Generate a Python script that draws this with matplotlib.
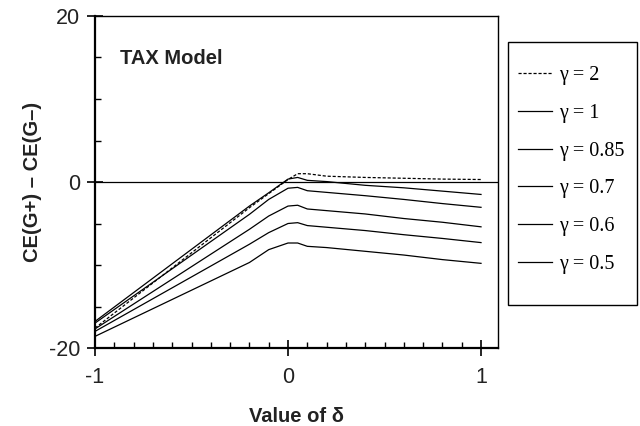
import matplotlib
matplotlib.use("Agg")
import matplotlib.pyplot as plt
from matplotlib.patches import Rectangle
from matplotlib.ticker import MultipleLocator

delta = [-1.0, -0.2, -0.1, 0.0, 0.05, 0.1, 0.2, 0.4, 0.6, 0.8, 1.0]
g2 = [-17.6, -3.1, -1.4, 0.3, 1.0, 1.0, 0.7, 0.55, 0.45, 0.35, 0.3]
g1 = [-16.8, -2.9, -1.3, 0.35, 0.55, 0.2, 0.05, -0.4, -0.7, -1.1, -1.5]
g085 = [-17.0, -3.9, -2.1, -0.75, -0.65, -1.05, -1.25, -1.65, -2.1, -2.6, -3.05]
g07 = [-17.7, -5.7, -4.1, -2.9, -2.8, -3.25, -3.45, -3.85, -4.4, -4.85, -5.4]
g06 = [-18.0, -7.5, -6.1, -5.0, -4.9, -5.25, -5.45, -5.85, -6.35, -6.8, -7.3]
g05 = [-18.6, -9.7, -8.15, -7.35, -7.35, -7.75, -7.9, -8.35, -8.8, -9.35, -9.8]
labels = ["γ = 2", "γ = 1", "γ = 0.85", "γ = 0.7", "γ = 0.6", "γ = 0.5"]

fig = plt.figure(figsize=(6.4, 4.26), dpi=100)
ax = fig.add_axes([95/640, 1-348/426, (498-95)/640, (348-16)/426])

series = [g2, g1, g085, g07, g06, g05]
handles = []
for i, (s, lab) in enumerate(zip(series, labels)):
    if i == 0:
        h, = ax.plot(delta, s, color="black", lw=0.9, linestyle=(0, (2.5, 1.5)), label=lab)
    else:
        h, = ax.plot(delta, s, color="black", lw=0.9, label=lab)
    handles.append(h)

ax.axhline(0, color="black", lw=0.9)
ax.set_xlim(-1, 1.088)
ax.set_ylim(-20, 20)
ax.set_xticks([-1, 0, 1])
ax.set_xticklabels(["-1", "0", "1"])
ax.set_yticks([-20, 0, 20])
ax.set_yticklabels(["-20", "0", "20"])
ax.xaxis.set_minor_locator(MultipleLocator(0.1))
ax.yaxis.set_minor_locator(MultipleLocator(5))
ax.tick_params(which="major", direction="inout", length=11, width=1.2, labelsize=15.5)
ax.tick_params(axis="x", which="major", pad=8)
ax.tick_params(axis="y", which="major", pad=5)
ax.tick_params(which="minor", direction="in", length=4, width=1.0)
for lab in ax.get_xticklabels() + ax.get_yticklabels():
    lab.set_fontfamily("Liberation Sans")
    lab.set_color("#222222")
ax.spines["left"].set_linewidth(1.6)
ax.spines["bottom"].set_linewidth(1.6)
ax.spines["top"].set_linewidth(1.0)
ax.spines["right"].set_linewidth(1.0)

ax.text(-0.87, 14.9, "TAX Model", fontsize=14.5, fontweight="bold",
        fontfamily="Liberation Sans", va="center", ha="left", color="#222222")
ax.set_xlabel("Value of δ", fontsize=14.5, fontweight="bold", fontfamily="Liberation Sans",
              labelpad=14, color="#222222")
ax.set_ylabel("CE(G+) – CE(G–)", fontsize=14.5, fontweight="bold", fontfamily="Liberation Sans",
              labelpad=5, color="#222222")

fig.patches.append(Rectangle((508/640, 1-305/426), (637-508)/640, (305-42)/426,
                             transform=fig.transFigure, fill=False, edgecolor="black", lw=1.0))
leg = fig.legend(handles=handles, loc="center left", bbox_to_anchor=(518/640, 1-(76+264)/2/426),
                 frameon=False, prop={"family": "Liberation Serif", "size": 14.5},
                 handlelength=1.7, handletextpad=0.35, labelspacing=0.93, borderpad=0, borderaxespad=0)

fig.savefig("out.png", dpi=100)
